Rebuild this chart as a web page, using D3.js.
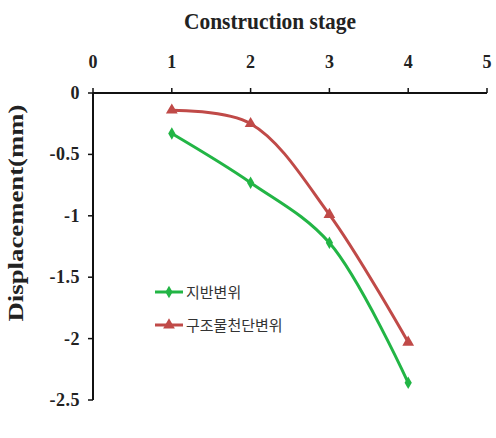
<!DOCTYPE html>
<html>
<head>
<meta charset="utf-8">
<script src="https://cdn.jsdelivr.net/npm/d3@7"></script>
<style>
body { margin: 0; background: #fff; }
.tick-label { font-family: 'Liberation Serif', 'Times New Roman', serif; font-weight: bold; font-size: 18px; fill: #222; }
.axis-title { font-family: 'Liberation Serif', 'Times New Roman', serif; font-weight: bold; fill: #222; }
.legend-label { font-family: 'Noto Sans CJK KR', sans-serif; font-size: 15px; fill: #333; }
</style>
</head>
<body>
<svg width="496" height="438"></svg>
<script>
var svg = d3.select('svg');

// data
var stages = [1, 2, 3, 4];
var groundDisp = [-0.33, -0.73, -1.22, -2.36];
var crownDisp = [-0.14, -0.25, -0.99, -2.03];
var seriesNames = ['지반변위', '구조물천단변위'];
var xTicks = [0, 1, 2, 3, 4, 5];
var yTicks = [0, -0.5, -1, -1.5, -2, -2.5];

var colors = ['#22b545', '#c04a48'];

// x from 0..5, y from 0 down to -2.5
var xScale = d3.scaleLinear().domain([0, 5]).range([93, 487]);
var yScale = d3.scaleLinear().domain([0, -2.5]).range([93, 400]);

// top axis
svg.append('line')
    .attr('x1', xScale(0)).attr('x2', xScale(5))
    .attr('y1', yScale(0)).attr('y2', yScale(0))
    .style('stroke', '#111').style('stroke-width', 2);

svg.selectAll('.xtick')
    .data(xTicks)
    .enter()
    .append('line')
    .attr('class', 'xtick')
    .attr('x1', d => xScale(d)).attr('x2', d => xScale(d))
    .attr('y1', yScale(0)).attr('y2', yScale(0) - 5)
    .style('stroke', '#111').style('stroke-width', 1.5);

svg.selectAll('.xlabel')
    .data(xTicks)
    .enter()
    .append('text')
    .attr('class', 'tick-label')
    .attr('x', d => xScale(d))
    .attr('y', 68)
    .attr('text-anchor', 'middle')
    .text(d => d);

// left axis
svg.append('line')
    .attr('x1', xScale(0)).attr('x2', xScale(0))
    .attr('y1', yScale(0)).attr('y2', yScale(-2.5))
    .style('stroke', '#111').style('stroke-width', 2);

svg.selectAll('.ytick')
    .data(yTicks)
    .enter()
    .append('line')
    .attr('class', 'ytick')
    .attr('x1', xScale(0) - 5).attr('x2', xScale(0))
    .attr('y1', d => yScale(d)).attr('y2', d => yScale(d))
    .style('stroke', '#111').style('stroke-width', 1.5);

svg.selectAll('.ylabel')
    .data(yTicks)
    .enter()
    .append('text')
    .attr('class', 'tick-label')
    .attr('x', 80)
    .attr('y', d => yScale(d) + 6)
    .attr('text-anchor', 'end')
    .style('letter-spacing', '0.5px')
    .text(d => d);

// axis titles
svg.append('text')
    .attr('class', 'axis-title')
    .attr('x', 270)
    .attr('y', 29)
    .attr('text-anchor', 'middle')
    .attr('textLength', 172)
    .attr('lengthAdjust', 'spacingAndGlyphs')
    .style('font-size', '24px')
    .text('Construction stage');

svg.append('text')
    .attr('class', 'axis-title')
    .attr('transform', 'translate(23,213) rotate(-90)')
    .attr('text-anchor', 'middle')
    .attr('textLength', 217)
    .attr('lengthAdjust', 'spacingAndGlyphs')
    .style('font-size', '22px')
    .text('Displacement(mm)');

// lines
var series = [groundDisp, crownDisp].map(function(vals) {
    return vals.map(function(v, i) { return {x: stages[i], y: v}; });
});

var line = d3.line()
    .x(d => xScale(d.x))
    .y(d => yScale(d.y))
    .curve(d3.curveCatmullRom.alpha(0.5));

svg.selectAll('.series')
    .data(series)
    .enter()
    .append('path')
    .attr('d', line)
    .style('fill', 'none')
    .style('stroke', (d, i) => colors[i])
    .style('stroke-width', 3);

var diamond = d3.symbol().type(d3.symbolDiamond).size(45);
var triangle = d3.symbol().type(d3.symbolTriangle).size(60);

svg.selectAll('.gmark')
    .data(series[0])
    .enter()
    .append('path')
    .attr('d', diamond)
    .attr('transform', d => 'translate(' + xScale(d.x) + ',' + yScale(d.y) + ')')
    .style('fill', colors[0]);

svg.selectAll('.rmark')
    .data(series[1])
    .enter()
    .append('path')
    .attr('d', triangle)
    .attr('transform', d => 'translate(' + xScale(d.x) + ',' + yScale(d.y) + ')')
    .style('fill', colors[1]);

// legend
var legend = svg.selectAll('.legend')
    .data(seriesNames)
    .enter()
    .append('g')
    .attr('transform', (d, i) => 'translate(155,' + (292 + i * 33) + ')');

legend.append('line')
    .attr('x1', 0).attr('x2', 28)
    .style('stroke', (d, i) => colors[i])
    .style('stroke-width', 3);

legend.append('path')
    .attr('d', (d, i) => (i === 0 ? diamond : triangle)())
    .attr('transform', 'translate(14,0)')
    .style('fill', (d, i) => colors[i]);

legend.append('text')
    .attr('class', 'legend-label')
    .attr('x', 31)
    .attr('y', 6)
    .text(d => d);
</script>
</body>
</html>
